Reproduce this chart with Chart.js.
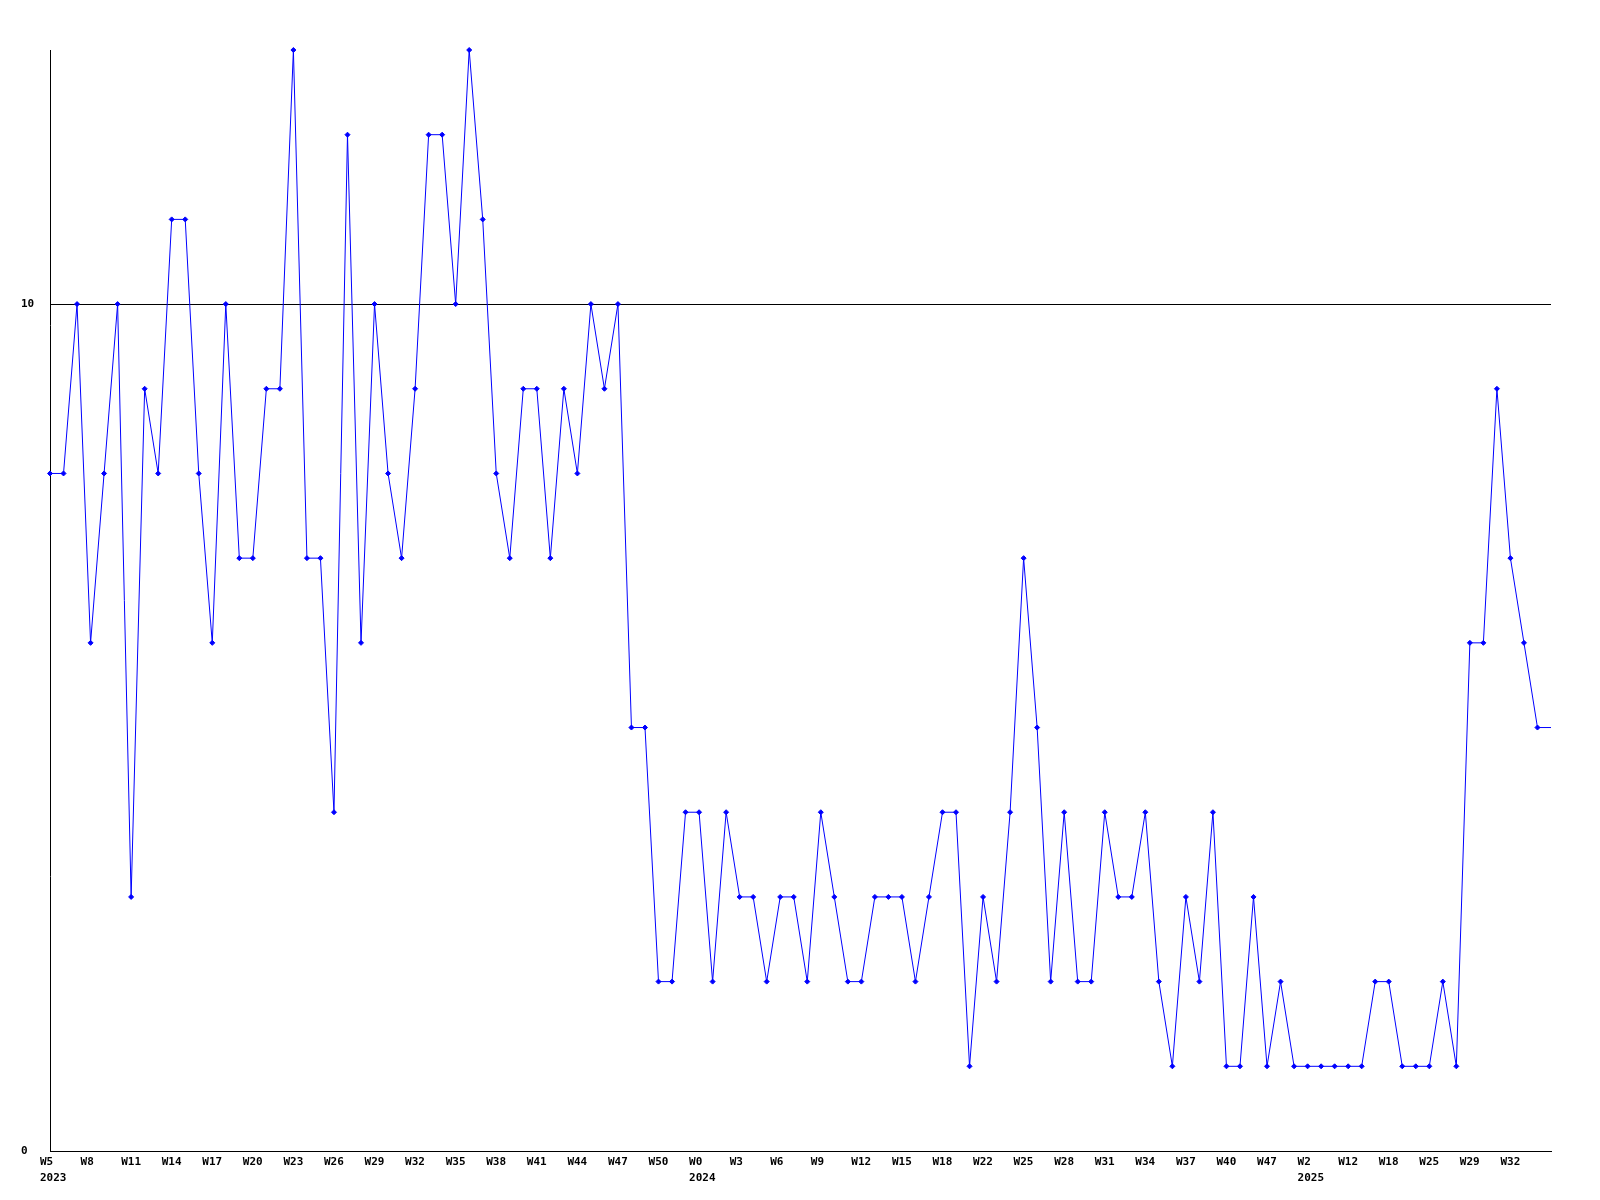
<!DOCTYPE html>
<html>
<head>
<meta charset="utf-8">
<script src="https://cdn.jsdelivr.net/npm/chart.js@4.4.0/dist/chart.umd.min.js"></script>
<style>
  body { margin: 0; background: #fff; }
  canvas { display: block; }
</style>
</head>
<body>
<canvas id="grafico" width="1600" height="1200"></canvas>
<script>
// semanas (categorias do eixo X)
const weeks = [
  'W5','W6','W7','W8','W9','W10','W11','W12','W13','W14','W15','W16','W17','W18','W19','W20',
  'W21','W22','W23','W24','W25','W26','W27','W28','W29','W30','W31','W32','W33','W34','W35','W36',
  'W37','W38','W39','W40','W41','W42','W43','W44','W45','W46','W47','W48','W49','W50','W51','W52',
  'W0','W1','W2','W3','W4','W5','W6','W7','W8','W9','W10','W11','W12','W13','W14','W15',
  'W16','W17','W18','W19','W21','W22','W23','W24','W25','W26','W27','W28','W29','W30','W31','W32',
  'W33','W34','W35','W36','W37','W38','W39','W40','W42','W45','W47','W49','W51','W2','W5','W9',
  'W12','W14','W16','W18','W20','W22','W25','W26','W27','W29','W30','W31','W32','W33','W34','W35'
];
// ano exibido na segunda linha (indice da semana, ano)
const yearMarks = [[0, '2023'], [48, '2024'], [93, '2025']];

// valores por semana
const counts = [
  8, 8, 10, 6, 8, 10, 3, 9, 8, 11, 11, 8, 6, 10, 7, 7,
  9, 9, 13, 7, 7, 4, 12, 6, 10, 8, 7, 9, 12, 12, 10, 13,
  11, 8, 7, 9, 9, 7, 9, 8, 10, 9, 10, 5, 5, 2, 2, 4,
  4, 2, 4, 3, 3, 2, 3, 3, 2, 4, 3, 2, 2, 3, 3, 3,
  2, 3, 4, 4, 1, 3, 2, 4, 7, 5, 2, 4, 2, 2, 4, 3,
  3, 4, 2, 1, 3, 2, 4, 1, 1, 3, 1, 2, 1, 1, 1, 1,
  1, 1, 2, 2, 1, 1, 1, 2, 1, 6, 6, 9, 7, 6, 5, 5
];

const yTicks = [0, 10];
const labelStep = 3; // um rotulo a cada 3 semanas

Chart.defaults.font.family = "'DejaVu Sans Mono', monospace";
Chart.defaults.font.size = 11;
Chart.defaults.font.weight = 'bold';
Chart.defaults.color = '#000';

const ctx = document.getElementById('grafico').getContext('2d');
new Chart(ctx, {
    type: 'line',
    data: {
        labels: weeks,
        datasets: [{
            data: counts,
            borderColor: '#0000ff',
            borderWidth: 1,
            tension: 0,
            clip: false,
            pointStyle: 'rectRot',
            pointRadius: c => (c.dataIndex === counts.length - 1 ? 0 : 2.5),
            pointBackgroundColor: '#0000ff',
            pointBorderColor: '#0000ff',
            pointBorderWidth: 1
        }]
    },
    options: {
        responsive: false,
        animation: false,
        layout: { padding: { top: 50, right: 49, left: 21, bottom: 0 } },
        plugins: {
            legend: { display: false },
            tooltip: { enabled: false }
        },
        scales: {
            x: {
                offset: false,
                grid: { display: false, drawTicks: false },
                border: { color: '#000', width: 1 },
                ticks: {
                    autoSkip: false,
                    maxRotation: 0,
                    minRotation: 0,
                    align: 'start',
                    labelOffset: -10,
                    padding: 3,
                    font: { lineHeight: 1.45 },
                    callback: function (value, index) {
                        if (index % labelStep !== 0 || index === weeks.length - 1) return '';
                        const mark = yearMarks.find(m => m[0] === index);
                        return mark ? [weeks[index], mark[1]] : weeks[index];
                    }
                },
                afterFit: s => { s.height = 49; }
            },
            y: {
                min: 0,
                max: 13,
                afterBuildTicks: s => { s.ticks = yTicks.map(v => ({ value: v })); },
                grid: { color: '#000', lineWidth: 1, drawTicks: false },
                border: { color: '#000', width: 1 },
                ticks: { crossAlign: 'far', padding: 0 },
                afterFit: s => { s.width = 29; }
            }
        }
    }
});
</script>
</body>
</html>
